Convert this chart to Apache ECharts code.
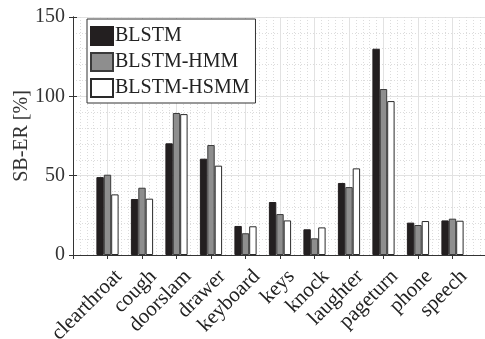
<!DOCTYPE html>
<html>
<head>
<meta charset="utf-8">
<script src="https://cdn.jsdelivr.net/npm/echarts@6/dist/echarts.min.js"></script>
<style>
html, body { margin: 0; padding: 0; background: #fff; }
#chart { width: 485px; height: 339px; }
</style>
</head>
<body>
<div id="chart"></div>
<script>
// 数据
var categories = ['clearthroat', 'cough', 'doorslam', 'drawer', 'keyboard', 'keys', 'knock', 'laughter', 'pageturn', 'phone', 'speech'];
var blstm     = [49.1, 35.3, 70.4, 60.7, 18.3, 33.4, 16.2, 45.4, 130.0, 20.4, 21.8];
var blstmHmm  = [50.6, 42.4, 89.5, 69.3, 13.7, 25.8, 10.5, 42.8, 104.6, 18.9, 22.9];
var blstmHsmm = [38.2, 35.5, 88.8, 56.3, 18.1, 21.8, 17.4, 54.6, 97.0, 21.4, 21.6];
var yTicks = [0, 50, 100, 150];

var font = 'Liberation Serif';

function pairs(arr) {
    return arr.map(function (v, i) { return [i + 1, v]; });
}

var myChart = echarts.init(document.getElementById('chart'));
var option = {
    animation: false,
    backgroundColor: '#fff',
    grid: { left: 73, top: 17, right: -2, bottom: 84, outerBoundsMode: 'none', containLabel: false },
    legend: {
        left: 87, top: 19,
        orient: 'vertical',
        icon: 'rect',
        itemWidth: 22, itemHeight: 18, itemGap: 6,
        padding: [7, 6, 5, 3],
        borderColor: '#333', borderWidth: 1, backgroundColor: '#fff',
        textStyle: { fontFamily: font, fontSize: 20, color: '#222', lineHeight: 18, padding: [0, 0, 0, -3] },
        data: ['BLSTM', 'BLSTM-HMM', 'BLSTM-HSMM']
    },
    xAxis: [{
        type: 'value', min: 0, max: 12, interval: 1,
        axisLine: { lineStyle: { color: '#333', width: 1 } },
        axisTick: { inside: true, length: 4, lineStyle: { color: '#333' } },
        minorTick: { show: true, splitNumber: 5, length: 0 },
        splitLine: { show: true, lineStyle: { color: '#e2e2e2', width: 1 } },
        minorSplitLine: { show: true, lineStyle: { color: '#dcdcdc', type: [1, 2], width: 1 } },
        axisLabel: {
            rotate: 45, fontFamily: font, fontSize: 21, color: '#222', margin: 7,
            verticalAlign: 'top', lineHeight: 32,
            formatter: function (v) { return categories[v - 1] || ''; }
        }
    }, {
        type: 'value', min: 0, max: 12, interval: 1, position: 'top',
        axisLine: { lineStyle: { color: '#333', width: 1 } },
        axisTick: { inside: true, length: 4, lineStyle: { color: '#333' } },
        axisLabel: { show: false },
        splitLine: { show: false }
    }],
    yAxis: [{
        type: 'value', min: yTicks[0], max: yTicks[yTicks.length - 1], interval: 50,
        name: 'SB-ER [%]', nameLocation: 'middle', nameGap: 41, nameMoveOverlap: false,
        nameTextStyle: { fontFamily: font, fontSize: 20, color: '#333' },
        axisLine: { show: true, lineStyle: { color: '#333', width: 1 } },
        axisTick: { inside: true, length: 4, lineStyle: { color: '#333' } },
        minorTick: { show: true, splitNumber: 5, length: 0 },
        splitLine: { show: true, lineStyle: { color: '#e2e2e2', width: 1 } },
        minorSplitLine: { show: true, lineStyle: { color: '#dcdcdc', type: [1, 2], width: 1 } },
        axisLabel: { fontFamily: font, fontSize: 20, color: '#333', margin: 8 }
    }, {
        type: 'value', min: 0, max: 150, interval: 50, position: 'right',
        axisLine: { show: true, lineStyle: { color: '#333', width: 1 } },
        axisTick: { inside: true, length: 4, lineStyle: { color: '#333' } },
        axisLabel: { show: false },
        splitLine: { show: false }
    }],
    series: [{
        name: 'BLSTM', type: 'bar', barWidth: 7.4, barGap: '0%',
        itemStyle: { color: '#231f20', borderColor: '#231f20', borderWidth: 1 },
        data: pairs(blstm)
    }, {
        name: 'BLSTM-HMM', type: 'bar', barWidth: 7.4, barGap: '0%',
        itemStyle: { color: '#8e8e8e', borderColor: '#3a3a3a', borderWidth: 1 },
        data: pairs(blstmHmm)
    }, {
        name: 'BLSTM-HSMM', type: 'bar', barWidth: 7.4, barGap: '0%',
        itemStyle: { color: '#ffffff', borderColor: '#2a2a2a', borderWidth: 1 },
        data: pairs(blstmHsmm)
    }]
};
myChart.setOption(option);
</script>
</body>
</html>
